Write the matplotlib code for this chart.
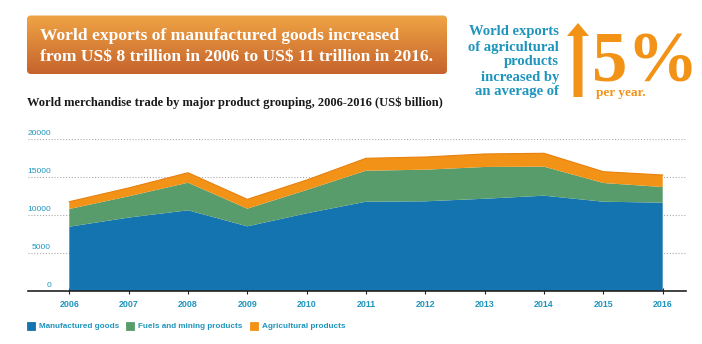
import numpy as np
import matplotlib
matplotlib.use("Agg")
import matplotlib.pyplot as plt
from matplotlib.patches import FancyBboxPatch, FancyArrow, Rectangle
from matplotlib.colors import LinearSegmentedColormap
import matplotlib.transforms as mtransforms

years = [2006, 2007, 2008, 2009, 2010, 2011, 2012, 2013, 2014, 2015, 2016]
manufactured = [8500, 9700, 10660, 8550, 10260, 11790, 11840, 12180, 12580, 11790, 11660]
fuels_mining = [2330, 2800, 3630, 2320, 3070, 4080, 4160, 4180, 3820, 2460, 2060]
agricultural = [960, 1100, 1310, 1230, 1310, 1630, 1670, 1710, 1760, 1490, 1580]
series_names = ["Manufactured goods", "Fuels and mining products", "Agricultural products"]
y_ticks = [0, 5000, 10000, 15000, 20000]

C_BLUE = "#1474b0"
C_GREEN = "#589c6c"
C_ORANGE = "#f29317"
C_TEAL = "#1f95bd"
SERIF = ["Liberation Serif", "DejaVu Serif"]
SANS = ["Liberation Sans", "DejaVu Sans"]

W, H = 702, 344
fig = plt.figure(figsize=(W / 100, H / 100), dpi=100)

ov = fig.add_axes([0, 0, 1, 1])
ov.set_xlim(0, W)
ov.set_ylim(H, 0)
ov.axis("off")

x0, x1 = 28, 686
ytop, ybot = 139.3, 291.3
ax = fig.add_axes([x0 / W, (H - ybot) / H, (x1 - x0) / W, (ybot - ytop) / H])
px_per_year = (662.7 - 69.3) / 10
ax.set_xlim(2006 - (69.3 - x0) / px_per_year, 2016 + (x1 - 662.7) / px_per_year)
ax.set_ylim(0, 20000)

ax.stackplot(years, manufactured, fuels_mining, agricultural,
             colors=[C_BLUE, C_GREEN, C_ORANGE], linewidth=0, zorder=2)
top = np.array(manufactured) + np.array(fuels_mining) + np.array(agricultural)
ax.plot(years, top, color="#e8800e", lw=0.8, zorder=3)

for s in ["top", "right", "left"]:
    ax.spines[s].set_visible(False)
ax.spines["bottom"].set_color("#222222")
ax.spines["bottom"].set_linewidth(1.2)
ax.set_yticks([])
for t in y_ticks[1:]:
    ax.axhline(t, color="#aaaaaa", lw=0.8, ls=(0, (1, 1.6)), zorder=1)
trans = mtransforms.blended_transform_factory(ax.transAxes, ax.transData)
for t in y_ticks:
    ax.text((51 - x0) / (x1 - x0), t + 350, str(t), transform=trans, ha="right",
            va="bottom", fontsize=6, color=C_TEAL, family=SANS)
ax.set_xticks(years)
ax.set_xticklabels([str(y) for y in years], fontsize=6.4, color=C_TEAL,
                   fontweight="bold", family=SANS)
ax.tick_params(axis="x", direction="inout", length=4, width=0.8, color="#222222", pad=4)

# header box with gradient
box = FancyBboxPatch((27, 15.5), 420, 58.5, boxstyle="round,pad=0,rounding_size=4",
                     linewidth=0, facecolor="none", zorder=2)
ov.add_patch(box)
grad = np.linspace(0, 1, 100).reshape(-1, 1)
cmap = LinearSegmentedColormap.from_list("g", ["#f0a445", "#c5632c"])
im = ov.imshow(grad, cmap=cmap, aspect="auto", extent=(27, 447, 74, 15.5), zorder=1)
im.set_clip_path(box)
ov.text(40, 36.5, "World exports of manufactured goods increased", color="white",
        fontsize=12.6, fontweight="bold", family=SERIF, va="center", ha="left",
        parse_math=False)
ov.text(40, 57.5, "from US$ 8 trillion in 2006 to US$ 11 trillion in 2016.", color="white",
        fontsize=12.6, fontweight="bold", family=SERIF, va="center", ha="left",
        parse_math=False)

# right side annotation
lines = ["World exports", "of agricultural", "products", "increased by", "an average of"]
for i, l in enumerate(lines):
    ov.text(559, 32 + i * 15, l, color=C_TEAL, fontsize=10.5, fontweight="bold",
            family=SERIF, ha="right", va="center")
ov.add_patch(FancyArrow(578, 97, 0, -74, width=9, head_width=22, head_length=13,
                        length_includes_head=True, color=C_ORANGE, lw=0))
ov.text(592, 82, "5%", color=C_ORANGE, fontsize=51, fontweight="bold", family=SERIF,
        ha="left", va="baseline")
ov.text(596, 93, "per year.", color=C_ORANGE, fontsize=9.5, fontweight="bold",
        family=SERIF, ha="left", va="center")

# chart title
ov.text(27, 103, "World merchandise trade by major product grouping, 2006-2016 (US$ billion)",
        color="#1a1a1a", fontsize=9, fontweight="bold", family=SERIF, ha="left", va="center",
        parse_math=False)

# legend
leg_x = [27, 126, 250]
for xx, c, name in zip(leg_x, [C_BLUE, C_GREEN, C_ORANGE], series_names):
    ov.add_patch(Rectangle((xx, 322), 8, 8, facecolor=c, edgecolor=c, lw=0.6))
    ov.text(xx + 12, 327, name, color=C_TEAL, fontsize=5.9, fontweight="bold",
            ha="left", va="center", family=SANS)

fig.savefig("out.png", dpi=100)
